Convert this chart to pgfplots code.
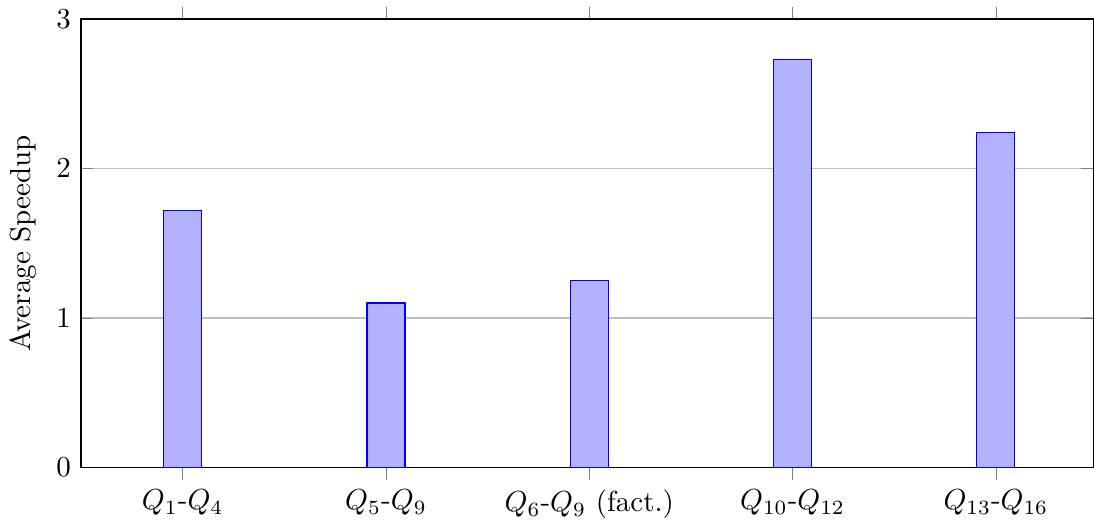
\documentclass[border=0pt]{standalone}
\usepackage{pgfplots}
\pgfplotsset{compat=1.18}
\begin{document}
\begin{tikzpicture}
\begin{axis}[
  scale only axis,
  width=349pt, height=154.6pt,
  ybar, bar width=13.1pt,
  ymin=0, ymax=3,
  xmin=-0.5, xmax=4.48,
  xtick=data,
  xticklabels={{$Q_1$-$Q_4$},{$Q_5$-$Q_9$},{$Q_6$-$Q_9$ (fact.)},{$Q_{10}$-$Q_{12}$},{$Q_{13}$-$Q_{16}$}},
  ytick={0,1,2,3},
  ymajorgrids,
  ylabel={Average Speedup},
]
\addplot[draw=blue, fill=blue!30] coordinates {(0,1.72) (1,1.10) (2,1.25) (3,2.73) (4,2.24)};
\end{axis}
\end{tikzpicture}
\end{document}
